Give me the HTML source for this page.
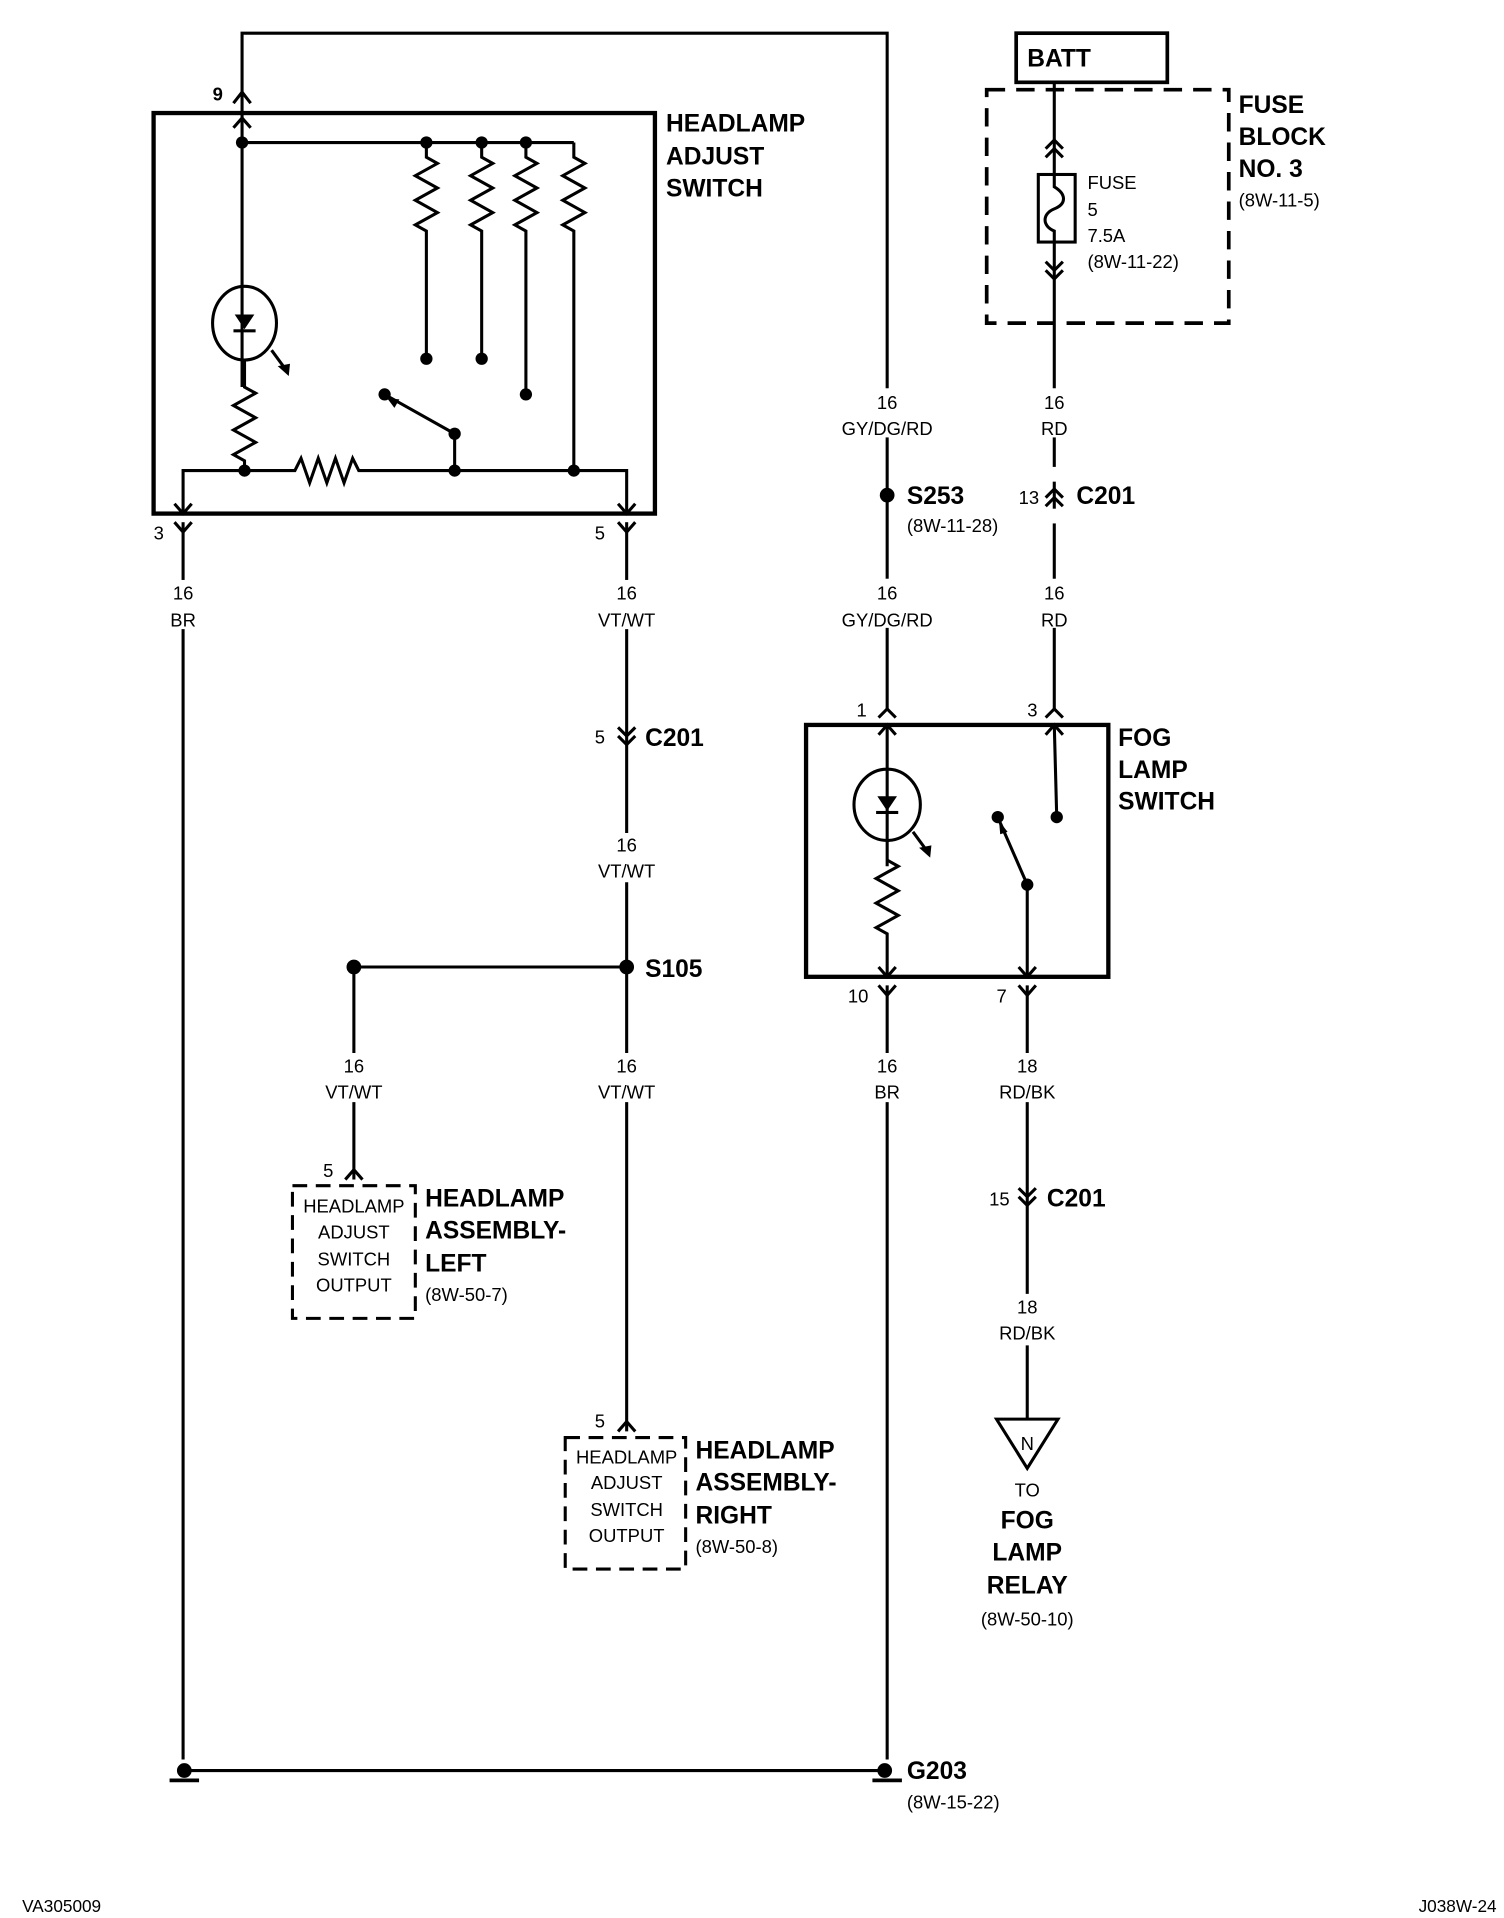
<!DOCTYPE html>
<html><head><meta charset="utf-8"><style>
html,body{margin:0;padding:0;background:#fff;}
svg{display:block;}
text{font-family:"Liberation Sans",sans-serif;fill:#000;}
.b{font-weight:bold;font-size:20px;}
.s{font-size:14px;}
.m{font-size:15px;}
</style></head><body>
<svg width="1504" height="1918" viewBox="0 0 1224 1561" preserveAspectRatio="none" xmlns="http://www.w3.org/2000/svg">
<g fill="none" stroke="#000" stroke-width="2.5">
<!-- top wire -->
<polyline points="197,96 197,27 722,27 722,577"/>
<!-- headlamp adjust switch box -->
<rect x="125" y="92" width="408" height="326" stroke-width="3.5"/>
<path d="M190,84 L197,75 L204,84"/>
<path d="M190,104 L197,96 L204,104"/>
<line x1="197" y1="116" x2="467" y2="116"/>
<line x1="197" y1="96" x2="197" y2="315"/>
<!-- resistors vertical -->
<path d="M347,116 V128 l9,5 l-18,10 l18,10 l-18,10 l18,10 l-18,10 l9,5 V292"/>
<path d="M392,116 V128 l9,5 l-18,10 l18,10 l-18,10 l18,10 l-18,10 l9,5 V292"/>
<path d="M428,116 V128 l9,5 l-18,10 l18,10 l-18,10 l18,10 l-18,10 l9,5 V321"/>
<path d="M467,116 V128 l9,5 l-18,10 l18,10 l-18,10 l18,10 l-18,10 l9,5 V383"/>
<!-- LED -->
<ellipse cx="199" cy="263" rx="26" ry="30"/>
<line x1="221" y1="285" x2="232" y2="300"/>
<!-- lower resistor -->
<path d="M199,293 V315 l9,5 l-18,10 l18,10 l-18,10 l18,10 l-18,10 l9,5 V383"/>
<!-- bottom bus -->
<path d="M149,418 V383 H240 l5,-10 l7,20 l7,-20 l7,20 l7,-20 l7,20 l7,-20 l5,10 H510 V418"/>
<path d="M142,410 L149,418 L156,410"/>
<path d="M503,410 L510,418 L517,410"/>
<line x1="313" y1="321" x2="370" y2="353"/>
<line x1="370" y1="353" x2="370" y2="383"/>
<!-- pins 3,5 -->
<path d="M142,425 L149,433 L156,425"/>
<path d="M503,425 L510,433 L517,425"/>
<line x1="149" y1="425" x2="149" y2="472"/>
<line x1="149" y1="512" x2="149" y2="1432"/>
<line x1="510" y1="425" x2="510" y2="472"/>
<line x1="510" y1="512" x2="510" y2="678"/>
<line x1="510" y1="718" x2="510" y2="857"/>
<line x1="510" y1="897" x2="510" y2="1165"/>
<!-- C201 pin5 -->
<path d="M503,592 L510,599 L517,592 M503,599 L510,606 L517,599"/>
<!-- S105 -->
<line x1="288" y1="787" x2="510" y2="787"/>
<line x1="288" y1="787" x2="288" y2="857"/>
<line x1="288" y1="897" x2="288" y2="960"/>
<path d="M281,960 L288,952 L295,960"/>
<path d="M503,1165 L510,1157 L517,1165"/>
<rect x="238" y="965" width="100" height="108" stroke-dasharray="12,7"/>
<rect x="460" y="1170" width="98" height="107" stroke-dasharray="12,7"/>
<!-- ground bus -->
<line x1="150" y1="1441" x2="720" y2="1441"/>
<line x1="138" y1="1449" x2="162" y2="1449" stroke-width="3"/>
<line x1="710" y1="1449" x2="734" y2="1449" stroke-width="3"/>
<!-- S253 wire labels gaps handled by white rects later -->
<!-- fog lamp switch -->
<rect x="656" y="590" width="246" height="205" stroke-width="3.5"/>
<path d="M715,584 L722,577 L729,584"/>
<path d="M851,584 L858,577 L865,584"/>
<path d="M715,598 L722,590 L729,598"/>
<path d="M851,598 L858,590 L865,598"/>
<line x1="722" y1="590" x2="722" y2="705"/>
<ellipse cx="722" cy="655" rx="27" ry="29"/>
<line x1="743" y1="677" x2="754" y2="692"/>
<path d="M722,700 l9,5 l-18,10 l18,10 l-18,10 l18,10 l-18,10 l9,5 V795"/>
<path d="M715,787 L722,795 L729,787"/>
<line x1="858" y1="590" x2="860" y2="665"/>
<line x1="812" y1="665" x2="836" y2="720"/>
<line x1="836" y1="720" x2="836" y2="795"/>
<path d="M829,787 L836,795 L843,787"/>
<path d="M715,802 L722,810 L729,802"/>
<path d="M829,802 L836,810 L843,802"/>
<line x1="722" y1="802" x2="722" y2="857"/>
<line x1="722" y1="897" x2="722" y2="1432"/>
<line x1="836" y1="802" x2="836" y2="857"/>
<line x1="836" y1="897" x2="836" y2="1053"/>
<line x1="836" y1="1095" x2="836" y2="1155"/>
<path d="M829,967 L836,974 L843,967 M829,974 L836,981 L843,974"/>
<path d="M811,1155 H861 L836,1195 Z"/>
<!-- BATT / fuse -->
<rect x="827" y="27" width="123" height="40" stroke-width="3"/>
<rect x="803" y="73" width="197" height="190" stroke-dasharray="15,9" stroke-width="3"/>
<line x1="858" y1="67" x2="858" y2="142"/>
<path d="M851,121 L858,114 L865,121 M851,128 L858,121 L865,128"/>
<rect x="845" y="142" width="30" height="55"/>
<path d="M858,142 V152 c10,6 10,14 0,18 c-10,4 -10,14 0,18 V197"/>
<line x1="858" y1="197" x2="858" y2="577"/>
<path d="M851,213 L858,220 L865,213 M851,220 L858,227 L865,220"/>
<path d="M851,405 L858,398 L865,405 M851,412 L858,405 L865,412"/>
</g>
<!-- gaps for labels -->
<g fill="#fff">
<rect x="712" y="316" width="20" height="40"/>
<rect x="712" y="471" width="20" height="40"/>
<rect x="848" y="316" width="20" height="40"/>
<rect x="848" y="471" width="20" height="40"/>
<rect x="848" y="380" width="20" height="12"/>
<rect x="848" y="414" width="20" height="12"/>
</g>
<!-- dots -->
<g fill="#000">
<circle cx="197" cy="116" r="5"/><circle cx="347" cy="116" r="5"/><circle cx="392" cy="116" r="5"/><circle cx="428" cy="116" r="5"/>
<circle cx="347" cy="292" r="5"/><circle cx="392" cy="292" r="5"/><circle cx="428" cy="321" r="5"/>
<circle cx="313" cy="321" r="5"/><circle cx="370" cy="353" r="5"/>
<circle cx="199" cy="383" r="5"/><circle cx="370" cy="383" r="5"/><circle cx="467" cy="383" r="5"/>
<path d="M191,256 H207 L199,268 Z"/><rect x="190" y="268" width="18" height="2.5"/>
<path d="M226,298 L235,306 L236,296 Z"/>
<path d="M714,648 H730 L722,660 Z"/><rect x="713" y="660" width="18" height="2.5"/>
<path d="M748,690 L757,698 L758,688 Z"/>
<path d="M315,324 L325,325 L321,332 Z"/>
<path d="M813,668 L820,677 L814,679 Z"/>
<circle cx="722" cy="403" r="6"/>
<circle cx="510" cy="787" r="6"/><circle cx="288" cy="787" r="6"/>
<circle cx="812" cy="665" r="5"/><circle cx="860" cy="665" r="5"/><circle cx="836" cy="720" r="5"/>
<circle cx="150" cy="1441" r="6"/><circle cx="720" cy="1441" r="6"/>
</g>
<!-- labels -->
<text class="b" x="542" y="107">HEADLAMP</text>
<text class="b" x="542" y="134">ADJUST</text>
<text class="b" x="542" y="160">SWITCH</text>
<text class="m" x="173" y="82" font-weight="bold">9</text>
<text class="m" x="125" y="439">3</text>
<text class="m" x="484" y="439">5</text>
<g class="m" text-anchor="middle">
<text x="149" y="488">16</text><text x="149" y="510">BR</text>
<text x="510" y="488">16</text><text x="510" y="510">VT/WT</text>
<text x="510" y="693">16</text><text x="510" y="714">VT/WT</text>
<text x="510" y="873">16</text><text x="510" y="894">VT/WT</text>
<text x="288" y="873">16</text><text x="288" y="894">VT/WT</text>
<text x="722" y="333">16</text><text x="722" y="354">GY/DG/RD</text>
<text x="722" y="488">16</text><text x="722" y="510">GY/DG/RD</text>
<text x="858" y="333">16</text><text x="858" y="354">RD</text>
<text x="858" y="488">16</text><text x="858" y="510">RD</text>
<text x="722" y="873">16</text><text x="722" y="894">BR</text>
<text x="836" y="873">18</text><text x="836" y="894">RD/BK</text>
<text x="836" y="1069">18</text><text x="836" y="1090">RD/BK</text>
<text x="836" y="1180">N</text>
<text x="836" y="1218">TO</text>
<text x="836" y="1323">(8W-50-10)</text>
<text x="288" y="987">HEADLAMP</text><text x="288" y="1008">ADJUST</text><text x="288" y="1030">SWITCH</text><text x="288" y="1051">OUTPUT</text>
<text x="510" y="1191">HEADLAMP</text><text x="510" y="1212">ADJUST</text><text x="510" y="1234">SWITCH</text><text x="510" y="1255">OUTPUT</text>
</g>
<g class="b" text-anchor="middle">
<text x="836" y="1244">FOG</text><text x="836" y="1270">LAMP</text><text x="836" y="1297">RELAY</text>
</g>
<text class="m" x="484" y="605">5</text>
<text class="b" x="525" y="607">C201</text>
<text class="b" x="525" y="795">S105</text>
<text class="m" x="263" y="958">5</text>
<text class="m" x="484" y="1162">5</text>
<text class="b" x="346" y="982">HEADLAMP</text>
<text class="b" x="346" y="1008">ASSEMBLY-</text>
<text class="b" x="346" y="1035">LEFT</text>
<text class="m" x="346" y="1059">(8W-50-7)</text>
<text class="b" x="566" y="1187">HEADLAMP</text>
<text class="b" x="566" y="1213">ASSEMBLY-</text>
<text class="b" x="566" y="1240">RIGHT</text>
<text class="m" x="566" y="1264">(8W-50-8)</text>
<text class="b" x="738" y="410">S253</text>
<text class="m" x="738" y="433">(8W-11-28)</text>
<text class="m" x="829" y="410">13</text>
<text class="b" x="876" y="410">C201</text>
<text class="m" x="697" y="583">1</text>
<text class="m" x="836" y="583">3</text>
<text class="m" x="690" y="816">10</text>
<text class="m" x="811" y="816">7</text>
<text class="m" x="805" y="981">15</text>
<text class="b" x="852" y="982">C201</text>
<text class="b" x="910" y="607">FOG</text>
<text class="b" x="910" y="633">LAMP</text>
<text class="b" x="910" y="659">SWITCH</text>
<text class="b" x="738" y="1448">G203</text>
<text class="m" x="738" y="1472">(8W-15-22)</text>
<text class="b" x="836" y="54">BATT</text>
<text class="b" x="1008" y="92">FUSE</text>
<text class="b" x="1008" y="118">BLOCK</text>
<text class="b" x="1008" y="144">NO. 3</text>
<text class="m" x="1008" y="168">(8W-11-5)</text>
<text class="m" x="885" y="154">FUSE</text>
<text class="m" x="885" y="176">5</text>
<text class="m" x="885" y="197">7.5A</text>
<text class="m" x="885" y="218">(8W-11-22)</text>
<text class="s" x="18" y="1556">VA305009</text>
<text class="s" x="1218" y="1556" text-anchor="end">J038W-24</text>
</svg>
</body></html>
